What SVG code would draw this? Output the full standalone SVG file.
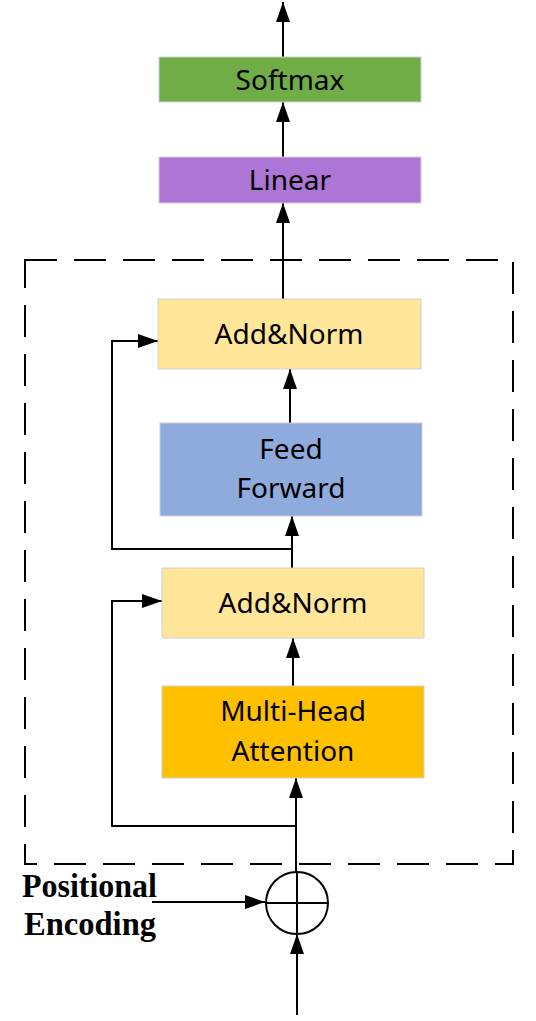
<svg xmlns="http://www.w3.org/2000/svg" width="536" height="1021" viewBox="0 0 536 1021">
<style>
.box{stroke:#D0D0D0;stroke-width:1}
.lbl{font-family:"Noto Sans","Open Sans",sans-serif;font-size:28px;fill:#000;text-anchor:middle}
.pe{font-family:"Liberation Serif","Times New Roman",serif;font-weight:bold;font-size:33px;fill:#000}
.c{fill:none;stroke:#000;stroke-width:2}
.a{marker-end:url(#ah)}
</style>
<defs>
<marker id="ah" markerUnits="userSpaceOnUse" markerWidth="20" markerHeight="14" refX="20" refY="7" orient="auto">
<path d="M0,0 L20,7 L0,14 z" fill="#000"/>
</marker>
</defs>
<rect x="25" y="260" width="488" height="604" fill="none" stroke="#000" stroke-width="2" stroke-dasharray="32 17"/>
<g id="connectors">
<path class="c a" d="M283,57 L283,2"/>
<path class="c a" d="M283,157 L283,102"/>
<path class="c a" d="M283,299 L283,203"/>
<path class="c a" d="M290,423 L290,369"/>
<path class="c a" d="M292,568 L292,516"/>
<path class="c a" d="M292,549 L112,549 L112,341 L158,341"/>
<path class="c a" d="M293,686 L293,638"/>
<path class="c a" d="M296,872 L296,778"/>
<path class="c a" d="M296,826 L112,826 L112,601 L162,601"/>
<path class="c a" d="M152,902 L265,902"/>
<path class="c a" d="M297,1015 L297,934"/>
</g>
<g id="softmax"><rect class="box" x="159" y="57" width="262" height="45" fill="#70AD47"/><text class="lbl" x="290" y="90">Softmax</text></g>
<g id="linear"><rect class="box" x="159" y="157" width="262" height="46" fill="#AD76D6"/><text class="lbl" x="290" y="190">Linear</text></g>
<g id="addnorm2"><rect class="box" x="158" y="299" width="263" height="70" fill="#FFE699"/><text class="lbl" x="289" y="344">Add&amp;Norm</text></g>
<g id="feedforward"><rect class="box" x="160" y="423" width="262" height="93" fill="#8FAADC"/><text class="lbl" x="291" y="459">Feed</text><text class="lbl" x="291" y="498">Forward</text></g>
<g id="addnorm1"><rect class="box" x="162" y="568" width="262" height="70" fill="#FFE699"/><text class="lbl" x="293" y="613">Add&amp;Norm</text></g>
<g id="mha"><rect class="box" x="162" y="686" width="262" height="92" fill="#FFC000"/><text class="lbl" x="293" y="721">Multi-Head</text><text class="lbl" x="293" y="761">Attention</text></g>
<g id="add">
<circle cx="297" cy="903" r="31" fill="none" stroke="#000" stroke-width="2"/>
<path d="M266,903 L328,903 M297,872 L297,934" stroke="#000" stroke-width="2"/>
</g>
<g id="posenc"><text class="pe" x="22" y="897" textLength="135" lengthAdjust="spacingAndGlyphs">Positional</text><text class="pe" x="24" y="935" textLength="132" lengthAdjust="spacingAndGlyphs">Encoding</text></g>
</svg>
